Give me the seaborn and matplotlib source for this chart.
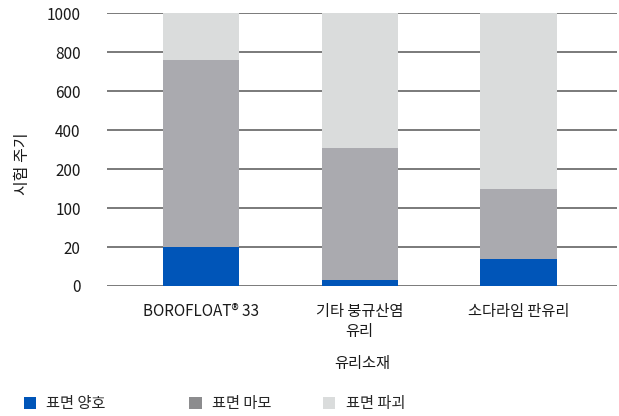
import numpy as np
import pandas as pd
import matplotlib
matplotlib.use("Agg")
import matplotlib.pyplot as plt
import seaborn as sns
from matplotlib.patches import Patch

# --- data ---
materials = ["BOROFLOAT® 33", "기타 붕규산염\n유리", "소다라임 판유리"]
good = [21, 3, 14]            # 표면 양호
worn = [739, 307, 136]        # 표면 마모
broken = [240, 690, 850]      # 표면 파괴
tick_vals = [0, 20, 100, 200, 400, 600, 800, 1000]
series_names = ["표면 양호", "표면 마모", "표면 파괴"]
colors = ["#0055b8", "#aaaaaf", "#dadcdc"]
legend_colors = ["#0055b8", "#8c8c8e", "#dadcdc"]

sns.set_theme(style="white")
plt.rcParams["font.family"] = ["Noto Sans CJK KR", "DejaVu Sans"]

df = pd.DataFrame({"material": materials, "good": good, "worn": worn, "broken": broken})
df["lvl1"] = df["good"]
df["lvl2"] = df["good"] + df["worn"]
df["lvl3"] = df["lvl2"] + df["broken"]

fig = plt.figure(figsize=(6.19, 4.16), dpi=100)
ax = fig.add_axes([0.173, 0.3125, 0.824, 0.656])

# uneven axis: each tick value is equally spaced
pos = np.arange(len(tick_vals))
fwd = lambda v: np.interp(v, tick_vals, pos)
inv = lambda p: np.interp(p, pos, tick_vals)
ax.set_yscale("function", functions=(fwd, inv))

# draw cumulative totals back to front so they look stacked
for col, c in zip(["lvl3", "lvl2", "lvl1"], colors[::-1]):
    sns.barplot(data=df, x="material", y=col, color=c, width=0.48,
                saturation=1, ax=ax, zorder=3, edgecolor="none", linewidth=0)

ax.set_ylim(0, 1000)
ax.set_xlim(-0.59, 2.62)
ax.set_yticks(tick_vals)
ax.set_yticklabels([str(v) for v in tick_vals])
ax.yaxis.grid(True, color="#707070", linewidth=1.3, zorder=1)
ax.xaxis.grid(False)
for s in ax.spines.values():
    s.set_visible(False)
ax.tick_params(axis="y", length=0, pad=19, labelsize=11, labelcolor="#1a1a1a")
ax.tick_params(axis="x", length=0, pad=12, labelsize=11, labelcolor="#1a1a1a")
for t in ax.get_xticklabels():
    t.set_linespacing(1.25)

ax.set_xlabel("유리소재", fontsize=11, color="#1a1a1a", labelpad=11)
ax.set_ylabel("시험 주기", fontsize=11.5, color="#1a1a1a")
ax.yaxis.set_label_coords(-0.15, 0.45)

# legend entries placed like the reference
for name, c, x in zip(series_names, legend_colors, [0.038, 0.306, 0.522]):
    fig.legend(handles=[Patch(facecolor=c, edgecolor="none")], labels=[name],
               loc="center left", bbox_to_anchor=(x, 0.029), frameon=False,
               fontsize=11, handlelength=0.8, handleheight=0.8,
               handletextpad=0.7, borderaxespad=0, borderpad=0)

fig.savefig("out.png", dpi=100)
